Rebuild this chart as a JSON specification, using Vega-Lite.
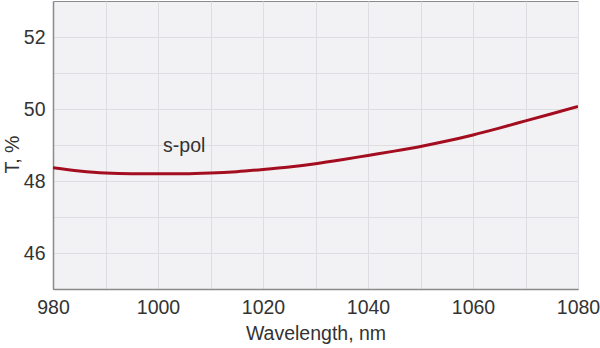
{
  "$schema": "https://vega.github.io/schema/vega-lite/v6.json",
  "autosize": {"type": "none"},
  "width": 525,
  "height": 288,
  "padding": {"left": 53, "top": 1, "right": 22, "bottom": 59},
  "background": "white",
  "config": {
    "font": "Liberation Sans",
    "view": {"fill": "#f2f2f4", "stroke": "#8a8a8a", "strokeWidth": 1},
    "axis": {
      "labelFont": "Liberation Sans",
      "titleFont": "Liberation Sans",
      "labelFontSize": 19.5,
      "titleFontSize": 19.5,
      "labelColor": "#333333",
      "titleColor": "#333333",
      "titleFontWeight": "normal",
      "gridColor": "#dedee2",
      "gridWidth": 1,
      "domainColor": "#8a8a8a",
      "domainWidth": 1.5,
      "ticks": false
    }
  },
  "layer": [
    {
      "data": {"values": [
        {"wl": 980, "T": 48.37},
        {"wl": 985, "T": 48.28},
        {"wl": 990, "T": 48.22},
        {"wl": 995, "T": 48.2},
        {"wl": 1000, "T": 48.2},
        {"wl": 1005, "T": 48.2},
        {"wl": 1010, "T": 48.22},
        {"wl": 1015, "T": 48.26},
        {"wl": 1020, "T": 48.32},
        {"wl": 1025, "T": 48.39},
        {"wl": 1030, "T": 48.48},
        {"wl": 1035, "T": 48.59},
        {"wl": 1040, "T": 48.71},
        {"wl": 1045, "T": 48.83},
        {"wl": 1050, "T": 48.96},
        {"wl": 1055, "T": 49.11},
        {"wl": 1060, "T": 49.28},
        {"wl": 1065, "T": 49.47},
        {"wl": 1070, "T": 49.67},
        {"wl": 1075, "T": 49.87},
        {"wl": 1080, "T": 50.07}
      ]},
      "mark": {"type": "line", "color": "#a30d1f", "strokeWidth": 3, "interpolate": "monotone", "clip": true},
      "encoding": {
        "x": {
          "field": "wl", "type": "quantitative",
          "scale": {"domain": [980, 1080], "nice": false, "zero": false},
          "axis": {"title": "Wavelength, nm",
                   "values": [980, 990, 1000, 1010, 1020, 1030, 1040, 1050, 1060, 1070, 1080],
                   "labelExpr": "datum.value % 20 == 0 ? datum.value : ''",
                   "labelPadding": 9, "titlePadding": 8, "labelFlush": false}
        },
        "y": {
          "field": "T", "type": "quantitative",
          "scale": {"domain": [45, 53], "nice": false, "zero": false},
          "axis": {"title": "T, %", "values": [46, 47, 48, 49, 50, 51, 52],
                   "labelExpr": "datum.value % 2 == 0 ? datum.value : ''",
                   "labelPadding": 8, "titleX": -35, "titleY": 153, "titleBaseline": "alphabetic"}
        }
      }
    },
    {
      "data": {"values": [{"wl": 1005, "T": 48.81, "label": "s-pol"}]},
      "mark": {"type": "text", "font": "Liberation Sans", "fontSize": 19.5, "color": "#333333", "baseline": "alphabetic"},
      "encoding": {
        "x": {"field": "wl", "type": "quantitative"},
        "y": {"field": "T", "type": "quantitative"},
        "text": {"field": "label"}
      }
    }
  ]
}
